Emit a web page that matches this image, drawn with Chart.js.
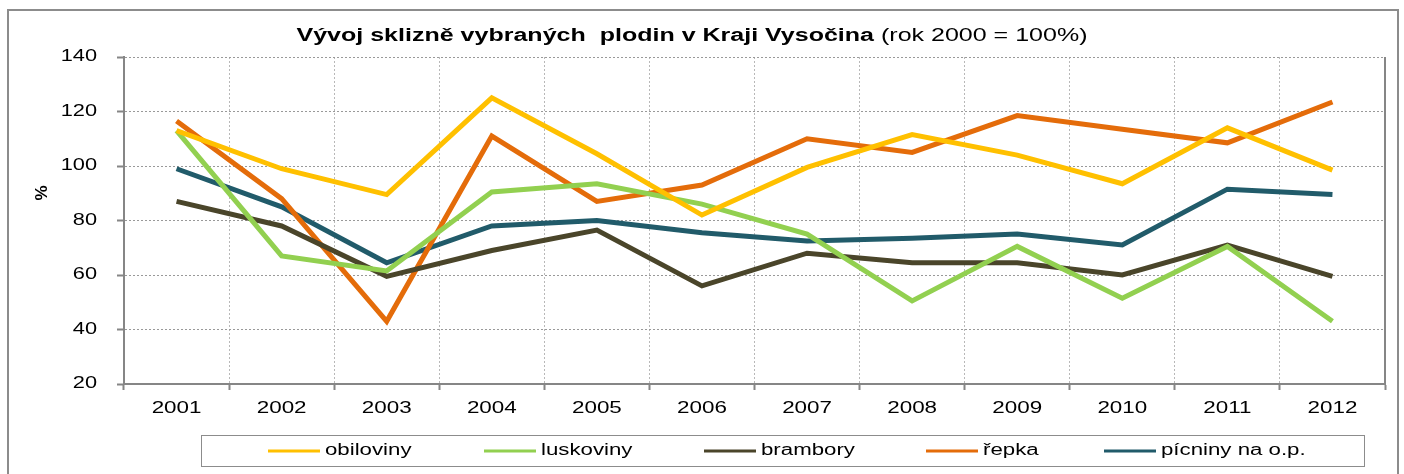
<!DOCTYPE html>
<html>
<head>
<meta charset="utf-8">
<script src="https://cdn.jsdelivr.net/npm/chart.js@4.4.0/dist/chart.umd.min.js"></script>
<style>
  body { margin: 0; background: #fff; }
  #wrap { position: relative; width: 1404px; height: 474px; }
</style>
</head>
<body>
<div id="wrap"><canvas id="chart" width="1404" height="474"></canvas></div>
<script>
// years on the x axis
const years = ['2001', '2002', '2003', '2004', '2005', '2006', '2007', '2008', '2009', '2010', '2011', '2012'];

// index values (rok 2000 = 100 %)
const obiloviny = [113, 99, 89.5, 125, 104.5, 82, 99.5, 111.5, 104, 93.5, 114, 98.5];
const luskoviny = [113, 67, 61.5, 90.5, 93.5, 86, 75, 50.5, 70.5, 51.5, 70.5, 43];
const brambory = [87, 78, 59.5, 69, 76.5, 56, 68, 64.5, 64.5, 60, 71, 59.5];
const repka = [116.5, 88, 43, 111, 87, 93, 110, 105, 118.5, 113.5, 108.5, 123.5];
const picniny = [99, 85, 64.5, 78, 80, 75.5, 72.5, 73.5, 75, 71, 91.5, 89.5];

const seriesNames = ['obiloviny', 'luskoviny', 'brambory', 'řepka', 'pícniny na o.p.'];
const seriesColors = ['#FFC000', '#92D050', '#4A452A', '#E46C0A', '#215B6A'];

const FONT = 'Liberation Sans, Arial, sans-serif';
const axisGray = '#868686';
const STRETCH = 1.39; // text in the original is drawn wide

// draws text stretched horizontally
function wideText(ctx, text, x, y, align, font, sx) {
  ctx.save();
  ctx.font = font;
  ctx.textAlign = align;
  ctx.textBaseline = 'middle';
  ctx.translate(x, y);
  ctx.scale(sx, 1);
  ctx.fillText(text, 0, 0);
  ctx.restore();
}

const decorPlugin = {
  id: 'decor',
  beforeDraw(chart) {
    const ctx = chart.ctx;
    ctx.save();
    ctx.fillStyle = '#fff';
    ctx.fillRect(0, 0, chart.width, chart.height);
    ctx.strokeStyle = '#8c8c8c';
    ctx.lineWidth = 2;
    ctx.strokeRect(8, 10, 1390, 480);
    ctx.restore();
  },
  afterDraw(chart) {
    const ctx = chart.ctx;
    const area = chart.chartArea;
    const xs = chart.scales.x;
    const ys = chart.scales.y;
    ctx.save();

    // right side of plot area
    ctx.strokeStyle = axisGray;
    ctx.lineWidth = 2;
    ctx.beginPath();
    ctx.moveTo(area.right, area.top);
    ctx.lineTo(area.right, area.bottom + 1);
    ctx.stroke();

    ctx.fillStyle = '#000';

    // tick labels
    xs.ticks.forEach((t, i) => {
      wideText(ctx, xs.getLabelForValue(t.value), xs.getPixelForTick(i), 409, 'center', '16px ' + FONT, 1.4);
    });
    ys.ticks.forEach((t, i) => {
      wideText(ctx, String(t.value), 97, ys.getPixelForTick(i), 'right', '16px ' + FONT, 1.36);
    });

    // y axis title
    ctx.save();
    ctx.translate(42, 193);
    ctx.rotate(-Math.PI / 2);
    ctx.font = 'bold 17px ' + FONT;
    ctx.textAlign = 'center';
    ctx.textBaseline = 'middle';
    ctx.fillText('%', 0, 0);
    ctx.restore();

    // title: bold part + normal part
    const bold = 'Vývoj sklizně vybraných  plodin v Kraji Vysočina';
    const normal = ' (rok 2000 = 100%)';
    const tFont = 18;
    ctx.font = 'bold ' + tFont + 'px ' + FONT;
    const wb = ctx.measureText(bold).width * STRETCH;
    ctx.font = tFont + 'px ' + FONT;
    const wn = ctx.measureText(normal).width * STRETCH;
    const tx = 299 + (786 - wb - wn) / 2;
    wideText(ctx, bold, tx, 36, 'left', 'bold ' + tFont + 'px ' + FONT, STRETCH);
    wideText(ctx, normal, tx + wb, 36, 'left', tFont + 'px ' + FONT, STRETCH);

    // legend box
    ctx.strokeStyle = '#8c8c8c';
    ctx.lineWidth = 1;
    ctx.strokeRect(201.5, 435.5, 1163, 31);
    const legendX = [268, 484, 704, 926, 1104];
    chart.data.datasets.forEach((ds, i) => {
      const x = legendX[i];
      ctx.strokeStyle = ds.borderColor;
      ctx.lineWidth = 3;
      ctx.beginPath();
      ctx.moveTo(x, 451);
      ctx.lineTo(x + 52, 451);
      ctx.stroke();
      ctx.fillStyle = '#000';
      wideText(ctx, ds.label, x + 57, 451, 'left', '16px ' + FONT, STRETCH);
    });
    ctx.restore();
  }
};

const ctx = document.getElementById('chart').getContext('2d');
new Chart(ctx, {
  type: 'line',
  data: {
    labels: years,
    datasets: [obiloviny, luskoviny, brambory, repka, picniny].map((vals, i) => ({
      label: seriesNames[i],
      data: vals,
      borderColor: seriesColors[i],
      backgroundColor: seriesColors[i],
      borderWidth: 5,
      pointRadius: 0,
      tension: 0,
      fill: false,
    })),
  },
  options: {
    responsive: false,
    animation: false,
    layout: { padding: { left: 0, right: 19, top: 57, bottom: 0 } },
    plugins: {
      legend: { display: false },
      title: { display: false },
      tooltip: { enabled: false },
    },
    scales: {
      x: {
        offset: true,
        grid: {
          offset: true,
          color: '#b8b8b8',
          tickLength: 6,
          tickColor: axisGray,
          tickWidth: 2,
          tickBorderDash: [1, 0],
        },
        border: { color: axisGray, width: 2, dash: [2, 2] },
        ticks: { display: false },
        afterFit(scale) { scale.height = 90; },
      },
      y: {
        min: 20,
        max: 140,
        grid: {
          color: '#999999',
          tickLength: 7,
          tickColor: axisGray,
          tickWidth: 2,
          tickBorderDash: [1, 0],
        },
        border: { color: axisGray, width: 2, dash: [2, 2] },
        ticks: { stepSize: 20, display: false },
        afterFit(scale) { scale.width = 124; },
      },
    },
  },
  plugins: [decorPlugin],
});
</script>
</body>
</html>
